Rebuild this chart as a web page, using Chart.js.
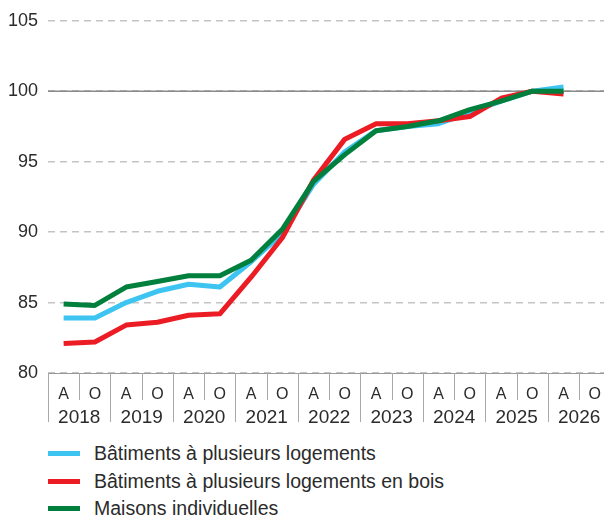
<!DOCTYPE html>
<html>
<head>
<meta charset="utf-8">
<script src="https://cdn.jsdelivr.net/npm/chart.js@4.4.1/dist/chart.umd.min.js"></script>
<style>
  html, body { margin: 0; padding: 0; background: #fff; overflow: hidden; }
  #wrap { position: relative; width: 604px; height: 521px; overflow: hidden; }
  #box { position: absolute; left: 0; top: 0; width: 613px; height: 430px; }
  .item { position: absolute; left: 48px; height: 28px; display: flex; align-items: center;
          font-family: "Liberation Sans", Arial, sans-serif; font-size: 19.5px; color: #2b2b2b; white-space: nowrap; }
  .sw { width: 32px; height: 5px; margin-right: 14px; }
</style>
</head>
<body>
<div id="wrap">
  <div id="box"><canvas id="indexChart"></canvas></div>
  <div id="legend"></div>
</div>
<script>
// Half-year labels (A = avril, O = octobre) and years
const halfLabels = ["A","O","A","O","A","O","A","O","A","O","A","O","A","O","A","O","A","O"];
const years = ["2018","2019","2020","2021","2022","2023","2024","2025","2026"];
const yTicks = [80, 85, 90, 95, 100, 105];

const seriesNames = [
  "Bâtiments à plusieurs logements",
  "Bâtiments à plusieurs logements en bois",
  "Maisons individuelles"
];
const seriesColors = ["#3ec4f0", "#ec1c24", "#007f3d"];

const multiUnit = [83.9, 83.9, 85.0, 85.8, 86.3, 86.1, 87.9, 89.9, 93.4, 95.7, 97.2, 97.5, 97.7, 98.5, 99.3, 100.0, 100.3, null];
const multiUnitWood = [82.1, 82.2, 83.4, 83.6, 84.1, 84.2, 86.8, 89.6, 93.7, 96.6, 97.7, 97.7, 97.9, 98.2, 99.5, 100.0, 99.8, null];
const detached = [84.9, 84.8, 86.1, 86.5, 86.9, 86.9, 88.0, 90.2, 93.6, 95.5, 97.2, 97.5, 97.9, 98.7, 99.3, 100.0, 100.0, null];

const seriesData = [multiUnit, multiUnitWood, detached];

// solid reference line at 100 and the category divider lines
const extras = {
  id: "extras",
  beforeDatasetsDraw(chart) {
    const { ctx, chartArea, scales } = chart;
    const y = scales.y.getPixelForValue(100);
    ctx.save();
    ctx.strokeStyle = "#8a8a8a";
    ctx.lineWidth = 1.5;
    ctx.beginPath();
    ctx.moveTo(chartArea.left, y);
    ctx.lineTo(chartArea.right, y);
    ctx.stroke();
    ctx.restore();
  },
  afterDraw(chart) {
    const { ctx, chartArea, scales } = chart;
    const x = scales.x;
    const half = (x.getPixelForTick(1) - x.getPixelForTick(0)) / 2;
    const start = x.getPixelForTick(0) - half;
    ctx.save();
    ctx.strokeStyle = "#a8a8a8";
    ctx.lineWidth = 1;
    for (let k = 0; k <= halfLabels.length; k++) {
      const px = Math.round(start + k * 2 * half) + 0.5;
      const bottom = k % 2 === 0 ? chartArea.bottom + 49 : chartArea.bottom + 27;
      ctx.beginPath();
      ctx.moveTo(px, chartArea.bottom);
      ctx.lineTo(px, bottom);
      ctx.stroke();
    }
    ctx.restore();
  }
};

const ctx = document.getElementById("indexChart").getContext("2d");
new Chart(ctx, {
  type: "line",
  data: {
    labels: halfLabels,
    datasets: seriesNames.map((name, i) => ({
      label: name,
      data: seriesData[i],
      order: seriesNames.length - i, // green drawn on top
      borderColor: seriesColors[i],
      backgroundColor: seriesColors[i],
      borderWidth: 5,
      borderCapStyle: "butt",
      borderJoinStyle: "round",
      pointRadius: 0,
      tension: 0,
      fill: false
    }))
  },
  options: {
    responsive: true,
    maintainAspectRatio: false,
    animation: false,
    layout: { padding: { top: 19, right: 0, bottom: 2, left: 0 } },
    plugins: {
      legend: { display: false },
      tooltip: { enabled: false }
    },
    scales: {
      x: {
        type: "category",
        offset: true,
        afterFit: (s) => { s.height = 27; },
        grid: { display: false, drawTicks: false, tickLength: 0 },
        border: { display: true, color: "#999999", width: 1 },
        ticks: {
          autoSkip: false,
          maxRotation: 0,
          padding: 12,
          color: "#2b2b2b",
          font: { family: "'Liberation Sans', Arial, sans-serif", size: 16 }
        }
      },
      x2: {
        type: "category",
        position: "bottom",
        labels: years,
        offset: true,
        afterFit: (s) => { s.height = 28; },
        grid: { display: false, drawTicks: false, tickLength: 0 },
        border: { display: false },
        ticks: {
          autoSkip: false,
          maxRotation: 0,
          padding: 6,
          color: "#2b2b2b",
          font: { family: "'Liberation Sans', Arial, sans-serif", size: 19 }
        }
      },
      y: {
        min: 80,
        max: 105,
        afterFit: (s) => { s.width = 48; },
        afterBuildTicks: (s) => { s.ticks = yTicks.map(v => ({ value: v })); },
        grid: { color: "#c4c4c4", lineWidth: 1.5, drawTicks: false },
        border: { display: false, dash: [7, 5] },
        ticks: {
          padding: 10,
          color: "#2b2b2b",
          font: { family: "'Liberation Sans', Arial, sans-serif", size: 18 }
        }
      }
    }
  },
  plugins: [extras]
});

// legend rows under the chart
const legend = document.getElementById("legend");
const rowCenters = [453, 481, 508];
seriesNames.forEach((name, i) => {
  const row = document.createElement("div");
  row.className = "item";
  row.style.top = (rowCenters[i] - 14) + "px";
  const sw = document.createElement("span");
  sw.className = "sw";
  sw.style.background = seriesColors[i];
  const txt = document.createElement("span");
  txt.textContent = name;
  row.appendChild(sw);
  row.appendChild(txt);
  legend.appendChild(row);
});
</script>
</body>
</html>
